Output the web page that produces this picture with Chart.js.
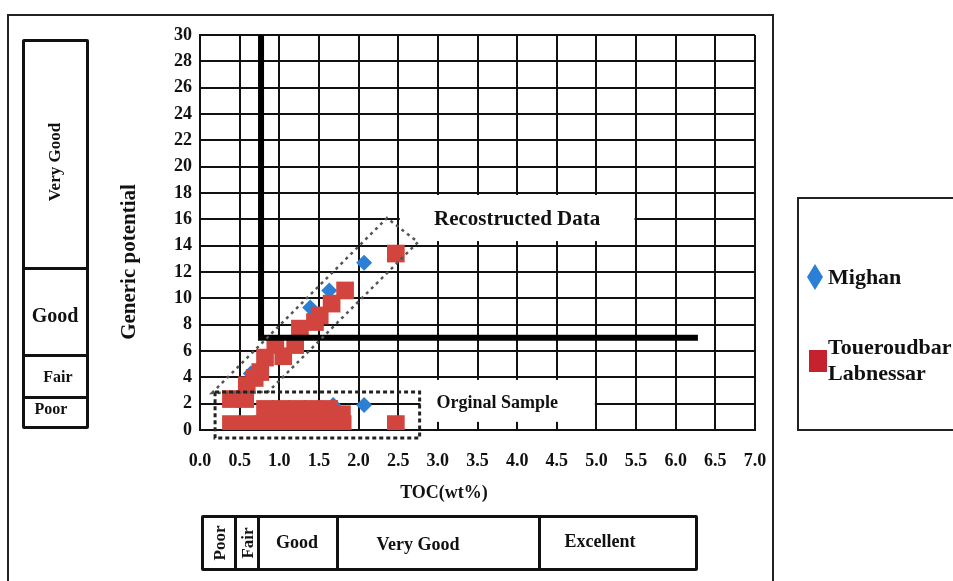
<!DOCTYPE html>
<html><head><meta charset="utf-8">
<script src="https://cdn.jsdelivr.net/npm/chart.js@4.4.1/dist/chart.umd.min.js"></script>
<style>
html,body{margin:0;padding:0;background:#fff;}
#wrap{position:relative;width:953px;height:581px;overflow:hidden;font-family:"Liberation Serif","Times New Roman",serif;font-weight:bold;color:#111;}
#c{position:absolute;left:0;top:0;}
.a{position:absolute;box-sizing:border-box;white-space:nowrap;}
.t{position:absolute;white-space:nowrap;transform:translate(-50%,-50%);line-height:1;}
.r{transform:translate(-50%,-50%) rotate(-90deg);}
.bar{position:absolute;background:#111;}
</style>
</head><body>
<div id="wrap">
  <canvas id="c" width="953" height="581"></canvas>
  <!-- outer frame -->
  <div class="a" style="left:7px;top:14px;width:767px;height:640px;border:2px solid #222;"></div>
  <!-- left category box -->
  <div class="a" style="left:22px;top:39px;width:67px;height:390px;border:3px solid #111;border-radius:2px;"></div>
  <div class="bar" style="left:22px;top:267px;width:67px;height:3px;"></div>
  <div class="bar" style="left:22px;top:354px;width:67px;height:3px;"></div>
  <div class="bar" style="left:22px;top:396px;width:67px;height:3px;"></div>
  <div class="t r" style="left:54px;top:162px;font-size:17px;">Very Good</div>
  <div class="t" style="left:55px;top:315px;font-size:20px;">Good</div>
  <div class="t" style="left:58px;top:377px;font-size:16px;">Fair</div>
  <div class="t" style="left:51px;top:409px;font-size:16px;">Poor</div>
  <!-- axis titles -->
  <div class="t r" style="left:128px;top:262px;font-size:21px;">Generic potential</div>
  <div class="t" style="left:444px;top:492px;font-size:18px;">TOC(wt%)</div>
  <!-- bottom category box -->
  <div class="a" style="left:201px;top:515px;width:497px;height:56px;border:3px solid #111;border-radius:2px;"></div>
  <div class="bar" style="left:234px;top:515px;width:3px;height:56px;"></div>
  <div class="bar" style="left:257px;top:515px;width:3px;height:56px;"></div>
  <div class="bar" style="left:336px;top:515px;width:3px;height:56px;"></div>
  <div class="bar" style="left:538px;top:515px;width:3px;height:56px;"></div>
  <div class="t r" style="left:219px;top:543px;font-size:17px;">Poor</div>
  <div class="t r" style="left:247px;top:543px;font-size:17px;">Fair</div>
  <div class="t" style="left:297px;top:542px;font-size:18px;">Good</div>
  <div class="t" style="left:418px;top:544px;font-size:18px;">Very Good</div>
  <div class="t" style="left:600px;top:541px;font-size:18px;">Excellent</div>
  <!-- legend -->
  <div class="a" style="left:797px;top:197px;width:220px;height:234px;border:2px solid #222;"></div>
  <div class="a" style="left:807px;top:264px;width:16px;height:26px;background:#2b7fd4;clip-path:polygon(50% 0,100% 50%,50% 100%,0 50%);"></div>
  <div class="a" style="left:828px;top:265px;font-size:22px;line-height:24px;">Mighan</div>
  <div class="a" style="left:809px;top:350px;width:18px;height:22px;background:#c4222c;"></div>
  <div class="a" style="left:828px;top:334px;font-size:22px;line-height:26px;">Toueroudbar<br>Labnessar</div>
</div>
<script>
// ---- data ----
const tocMighan = [2.07, 1.63, 2.07, 0.64, 1.39, 1.68];
const gpMighan  = [12.7, 10.6, 1.9, 4.3, 9.3, 1.9];

const tocToueroud = [2.47, 1.83, 1.66, 1.51, 1.45, 1.26, 0.95, 1.20, 0.82, 1.05, 0.76, 0.69, 0.59, 0.39, 0.57,
                     0.39, 0.59, 0.79, 1.00, 1.20, 1.40, 1.60, 1.80, 0.82, 1.02, 1.22, 1.42, 1.63, 1.79, 2.47];
const gpToueroud  = [13.4, 10.6, 9.6, 8.7, 8.2, 7.7, 6.45, 6.45, 5.5, 5.6, 4.4, 3.95, 3.4, 2.35, 2.35,
                     0.45, 0.45, 0.45, 0.45, 0.45, 0.45, 0.45, 0.45, 1.6, 1.6, 1.6, 1.6, 1.6, 1.2, 0.45];

const xTickLabels = ['0.0','0.5','1.0','1.5','2.0','2.5','3.0','3.5','4.0','4.5','5.0','5.5','6.0','6.5','7.0'];
const yTickLabels = ['0','2','4','6','8','10','12','14','16','18','20','22','24','26','28','30'];

// boundary lines (TOC / generic potential limits)
const boundaryTOC = 0.77;
const boundaryTOCEnd = 6.28;
const boundaryGP = 7.0;
const boundaryGPTop = 30;

// dotted envelopes
const reconstructedEnvelope = [[0.151, 2.81], [2.358, 16.10], [2.749, 14.27], [0.858, 2.89]];
const originalSampleBox = [[0.19, 2.89], [2.77, -0.61]];

// in-plot labels
const plotLabels = [
  {text: 'Recostructed Data', x0: 2.52, x1: 5.48, y0: 14.35, y1: 17.85, tx: 4.0, ty: 16.0, size: 21},
  {text: 'Orginal Sample',    x0: 2.78, x1: 4.98, y0: 0.62,  y1: 3.80,  tx: 3.75, ty: 2.05, size: 18}
];

const toPts = (xs, ys) => xs.map((v, i) => ({x: v, y: ys[i]}));
const FONT = '"Liberation Serif","Times New Roman",serif';

const overlay = {
  id: 'overlay',
  beforeDatasetsDraw(chart) {
    const {ctx, scales: {x, y}} = chart;
    ctx.save();
    ctx.fillStyle = '#fff';
    for (const b of plotLabels) {
      const l = x.getPixelForValue(b.x0), r = x.getPixelForValue(b.x1);
      const t = y.getPixelForValue(b.y1), btm = y.getPixelForValue(b.y0);
      ctx.fillRect(l, t, r - l, btm - t);
    }
    ctx.restore();
  },
  afterDatasetsDraw(chart) {
    const {ctx, scales: {x, y}} = chart;
    ctx.save();
    // thick boundary lines
    ctx.strokeStyle = '#000';
    ctx.lineWidth = 6;
    ctx.lineCap = 'butt';
    ctx.beginPath();
    ctx.moveTo(x.getPixelForValue(boundaryTOC), y.getPixelForValue(boundaryGPTop));
    ctx.lineTo(x.getPixelForValue(boundaryTOC), y.getPixelForValue(boundaryGP));
    ctx.lineTo(x.getPixelForValue(boundaryTOCEnd), y.getPixelForValue(boundaryGP));
    ctx.stroke();
    // reconstructed envelope (dotted grey)
    ctx.strokeStyle = '#555';
    ctx.lineWidth = 2.5;
    ctx.setLineDash([3, 4]);
    ctx.beginPath();
    reconstructedEnvelope.forEach((p, i) => {
      const px = x.getPixelForValue(p[0]), py = y.getPixelForValue(p[1]);
      if (i === 0) ctx.moveTo(px, py); else ctx.lineTo(px, py);
    });
    ctx.closePath();
    ctx.stroke();
    // original sample box (dotted black)
    ctx.strokeStyle = '#222';
    ctx.lineWidth = 3;
    ctx.setLineDash([4, 3]);
    const ox0 = x.getPixelForValue(originalSampleBox[0][0]), oy0 = y.getPixelForValue(originalSampleBox[0][1]);
    const ox1 = x.getPixelForValue(originalSampleBox[1][0]), oy1 = y.getPixelForValue(originalSampleBox[1][1]);
    ctx.strokeRect(ox0, oy0, ox1 - ox0, oy1 - oy0);
    ctx.setLineDash([]);
    // label texts
    ctx.fillStyle = '#111';
    ctx.textAlign = 'center';
    ctx.textBaseline = 'middle';
    for (const b of plotLabels) {
      ctx.font = 'bold ' + b.size + 'px ' + FONT;
      ctx.fillText(b.text, x.getPixelForValue(b.tx), y.getPixelForValue(b.ty));
    }
    ctx.restore();
  }
};

new Chart(document.getElementById('c'), {
  type: 'scatter',
  data: {
    datasets: [
      {
        label: 'Toueroudbar Labnessar',
        data: toPts(tocToueroud, gpToueroud),
        pointStyle: 'rect',
        pointRadius: 12.5,
        pointHoverRadius: 12.5,
        backgroundColor: '#d2453e',
        borderWidth: 0,
        order: 1
      },
      {
        label: 'Mighan',
        data: toPts(tocMighan, gpMighan),
        pointStyle: 'rectRot',
        pointRadius: 8,
        pointHoverRadius: 8,
        backgroundColor: '#2b7fd4',
        borderWidth: 0,
        order: 2
      }
    ]
  },
  options: {
    responsive: false,
    animation: false,
    devicePixelRatio: 1,
    layout: {padding: {left: 160, right: 198, top: 35, bottom: 101}},
    plugins: {legend: {display: false}, tooltip: {enabled: false}},
    scales: {
      x: {
        type: 'linear', min: 0, max: 7,
        afterFit: s => { s.height = 50; },
        ticks: {
          stepSize: 0.5, padding: 21, color: '#111', maxRotation: 0, autoSkip: false,
          font: {family: FONT, size: 18, weight: 'bold'},
          callback: (v, i) => xTickLabels[i]
        },
        grid: {color: '#111', lineWidth: 2, drawTicks: false},
        border: {color: '#111', width: 2}
      },
      y: {
        type: 'linear', min: 0, max: 30,
        afterFit: s => { s.width = 40; },
        ticks: {
          stepSize: 2, padding: 8, color: '#111', autoSkip: false,
          font: {family: FONT, size: 18, weight: 'bold'},
          callback: (v, i) => yTickLabels[i]
        },
        grid: {color: '#111', lineWidth: 2, drawTicks: false},
        border: {color: '#111', width: 2}
      }
    }
  },
  plugins: [overlay]
});
</script>
</body></html>
